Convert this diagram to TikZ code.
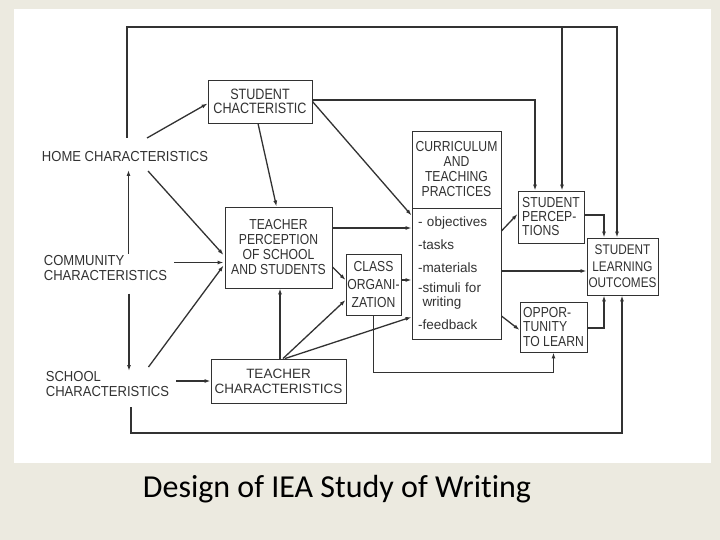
\documentclass[tikz,border=0pt]{standalone}
\usepackage{fontspec}
\setmainfont{Liberation Sans}
\newfontfamily\narrowfont{Liberation Sans}[FakeStretch=0.84]
\newfontfamily\labelfont{Liberation Sans}[FakeStretch=0.9]
\newfontfamily\captionfont{Carlito}[Ligatures=NoCommon]
\usetikzlibrary{arrows.meta}
\definecolor{ink}{RGB}{50,50,50}
\definecolor{slide}{RGB}{236,234,224}

\begin{document}
\begin{tikzpicture}[x=1pt, y=-1pt,
  box/.style={rectangle, draw=ink, line width=0.9pt, inner sep=0pt, text=ink,
              font=\narrowfont\fontsize{14.5}{15}\selectfont, align=center},
  factor/.style={inner sep=0pt, text=ink, align=left,
                 font=\labelfont\fontsize{14.5}{15}\selectfont},
  link/.style={->, draw=ink, line width=1.3pt},
  >={Latex[length=6pt,width=4pt]}
]
  % Slide
  \fill[slide] (0,0) rectangle (720,540);
  \fill[white] (14,9) rectangle (711,463);
  \useasboundingbox (0,0) rectangle (720,540);

  % Background factors
  \node[factor] (home)   at (125,157)   {HOME CHARACTERISTICS};
  \node[factor] (comm)   at (105.5,268.5) {COMMUNITY\\CHARACTERISTICS};
  \node[factor] (school) at (107.5,384) {SCHOOL\\CHARACTERISTICS};

  % Blocks
  \node[box, minimum width=104pt, minimum height=43pt, font=\narrowfont\fontsize{15}{14.5}\selectfont]
       (stuchar) at (260,101.5) {STUDENT\\CHACTERISTIC};
  \node[box, minimum width=107pt, minimum height=81pt]
       (tperc) at (278.5,247.5) {TEACHER\\PERCEPTION\\OF SCHOOL\\AND STUDENTS};
  \node[box, minimum width=135pt, minimum height=44pt, font=\fontsize{13.5}{15}\selectfont]
       (tchar) at (278.5,381) {TEACHER\\CHARACTERISTICS};
  \node[box, minimum width=55pt, minimum height=61pt, font=\narrowfont\fontsize{14.5}{18}\selectfont]
       (classorg) at (373.5,284.5) {CLASS\\ORGANI-\\ZATION};
  \node[box, minimum width=89pt, minimum height=77pt]
       (currtop) at (456.5,169.5) {CURRICULUM\\AND\\TEACHING\\PRACTICES};
  \node[box, text width=77pt, inner xsep=6pt, minimum height=131pt, align=left,
        font=\fontsize{13.5}{14}\selectfont]
       (currlist) at (456.5,273.5) {- objectives\\[9pt]-tasks\\[9pt]-materials\\[6pt]-stimuli for\\\phantom{-}writing\\[9pt]-feedback};
  \node[box, minimum width=66pt, minimum height=52pt, align=left,
        font=\narrowfont\fontsize{14.5}{14}\selectfont]
       (stuperc) at (551,217) {STUDENT\\PERCEP-\\TIONS};
  \node[box, minimum width=71pt, minimum height=57pt, font=\narrowfont\fontsize{14}{16.5}\selectfont]
       (slo) at (622.5,266.5) {STUDENT\\LEARNING\\OUTCOMES};
  \node[box, minimum width=67pt, minimum height=50pt, align=left,
        font=\narrowfont\fontsize{14.5}{14.5}\selectfont]
       (opp) at (553.5,327) {OPPOR-\\TUNITY\\TO LEARN};

  % Arrows from the factors
  \draw[link] ([shift={(22,-19)}]home.center) -- ([shift={(0,2)}]stuchar.west);
  \draw[link] ([shift={(23,14)}]home.center) -- ([shift={(-1,7.5)}]tperc.west);
  \draw[link] ([shift={(7,-6)}]comm.east) -- ([shift={(-1,-6)}]comm.east -| tperc.west);
  \draw[link] ([shift={(41,-17)}]school.center) -- ([shift={(-1,18)}]tperc.west);
  \draw[link] ([shift={(7,-3)}]school.east) -- (tchar.west);
  \draw[link] ([shift={(23,-15)}]comm.center) -- ([shift={(3.5,13)}]home.center);
  \draw[link] ([shift={(23.5,25)}]comm.center) -- ([shift={(21.5,-13)}]school.center);

  % Arrows between blocks
  \draw[link] ([shift={(-2,0)}]stuchar.south) -- ([shift={(-2,0)}]tperc.north);
  \draw[link] (stuchar.east) -- ([shift={(0,7)}]currtop.south west);
  \draw[link] ([shift={(0,-1.5)}]stuchar.east) -| ([shift={(-16,0)}]stuperc.north);
  \draw[link] ([shift={(0,-19.5)}]tperc.east) -- ([shift={(0,-45.5)}]currlist.west);
  \draw[link] ([shift={(0,19.5)}]tperc.east) -- ([shift={(0,-4.5)}]classorg.west);
  \draw[link] ([shift={(1.5,0)}]tchar.north) -- ([shift={(1.5,0)}]tperc.south);
  \draw[link] ([shift={(4.5,0)}]tchar.north) -- ([shift={(0,15.5)}]classorg.west);
  \draw[link] ([shift={(6.5,0)}]tchar.north) -- ([shift={(0,43.5)}]currlist.west);
  \draw[link] ([shift={(0,-4.5)}]classorg.east) -- ([shift={(0,6.5)}]currlist.west);
  \draw[link] (classorg.south) -- ++(0,57) -| (opp.south);
  \draw[link] ([shift={(0,-42.5)}]currlist.east) -- ([shift={(0,-3)}]stuperc.west);
  \draw[link] ([shift={(0,-2.5)}]currlist.east) -- ([shift={(0,4.5)}]slo.west);
  \draw[link] ([shift={(0,42.5)}]currlist.east) -- ([shift={(0,3)}]opp.west);
  \draw[link] ([shift={(0,-2)}]stuperc.east) -| ([shift={(-18.5,0)}]slo.north);
  \draw[link] ([shift={(0,1)}]opp.east) -| ([shift={(-18.5,0)}]slo.south);

  % Feedback loops
  \draw[link] ([shift={(2,-19)}]home.center) -- ++(0,-111) -| ([shift={(-5.5,0)}]slo.north);
  \draw[link] ([shift={(11,-164)}]stuperc.north) -- ([shift={(11,0)}]stuperc.north);
  \draw[link] ([shift={(23.5,23)}]school.center) -- ++(0,26) -| ([shift={(-0.5,0)}]slo.south);

  % Caption
  \node[anchor=base, font=\captionfont\fontsize{32}{36}\selectfont] (caption)
       at (337,497) {Design of IEA Study of Writing};
\end{tikzpicture}
\end{document}
